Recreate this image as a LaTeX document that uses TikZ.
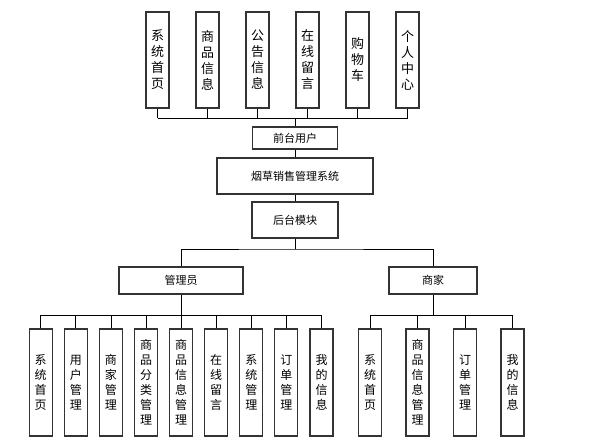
\documentclass[tikz,border=0pt]{standalone}
\usepackage{fontspec}
\setmainfont{Noto Sans CJK SC}
\usetikzlibrary{positioning}

\tikzset{
  vbox/.style={draw=black!80, line width=1.1pt, minimum width=23pt, inner sep=0pt, align=center},
  topbox/.style={vbox, minimum height=96pt, font=\fontsize{13}{16}\selectfont},
  lowbox/.style={vbox, minimum height=107pt, font=\fontsize{12}{15}\selectfont},
  hbox/.style={draw=black!80, line width=1.1pt, inner sep=0pt, font=\fontsize{11}{12}\selectfont},
  link/.style={draw=black, line width=0.7pt}
}

\begin{document}
\begin{tikzpicture}[x=1pt,y=-1pt]
\useasboundingbox (0,0) rectangle (601,444);
%----front modules-------------------------------
\foreach \t [count=\i] in {{系\\统\\首\\页},{商\\品\\信\\息},{公\\告\\信\\息},{在\\线\\留\\言},{购\\物\\车},{个\\人\\中\\心}}
  \node[topbox] (t\i) at (107.5+50*\i,60) {\t};
%----centre column-------------------------------
\node[hbox, minimum width=85pt, minimum height=22pt] (front) at (295,138) {前台用户};
\node[hbox, minimum width=156pt, minimum height=36pt] (sys) at (295,176) {烟草销售管理系统};
\node[hbox, minimum width=86pt, minimum height=36pt] (back) at (295,220) {后台模块};
%----roles---------------------------------------
\node[hbox, minimum width=124pt, minimum height=27pt] (admin) at (181,280.5) {管理员};
\node[hbox, minimum width=88pt, minimum height=27pt] (shop) at (433,280.5) {商家};
%----admin modules-------------------------------
\foreach \t [count=\i] in {{系\\统\\首\\页},{用\\户\\管\\理},{商\\家\\管\\理},{商\\品\\分\\类\\管\\理},{商\\品\\信\\息\\管\\理},{在\\线\\留\\言},{系\\统\\管\\理},{订\\单\\管\\理},{我\\的\\信\\息}}
  \node[lowbox] (a\i) at (5.6+35.1*\i,382.5) {\t};
%----shop modules--------------------------------
\foreach \t [count=\i] in {{系\\统\\首\\页},{商\\品\\信\\息\\管\\理},{订\\单\\管\\理},{我\\的\\信\\息}}
  \node[lowbox] (s\i) at (322.5+47.5*\i,382.5) {\t};
%----connectors----------------------------------
\coordinate (fbus) at (295,118);
\coordinate (mbus) at (295,249);
\coordinate (abus) at (181,315);
\coordinate (sbus) at (433,315);
\draw[link] (t1.south |- fbus) -- (t6.south |- fbus);
\foreach \i in {1,...,6}
  \draw[link] (t\i.south) -- (t\i.south |- fbus);
\draw[link] (fbus) -- (front.north);
\draw[link] (front.south) -- (sys.north);
\draw[link] (sys.south) -- (back.north);
\draw[link] (back.south) -- (mbus);
\draw[link] (admin.north) |- (mbus) -| (shop.north);
\draw[link] (admin.south) -- (abus);
\draw[link] (a1.north |- abus) -- (a9.north |- abus);
\foreach \i in {1,...,9}
  \draw[link] (a\i.north) -- (a\i.north |- abus);
\draw[link] (shop.south) -- (sbus);
\draw[link] (s1.north |- sbus) -- (s4.north |- sbus);
\foreach \i in {1,...,4}
  \draw[link] (s\i.north) -- (s\i.north |- sbus);
\end{tikzpicture}
\end{document}
